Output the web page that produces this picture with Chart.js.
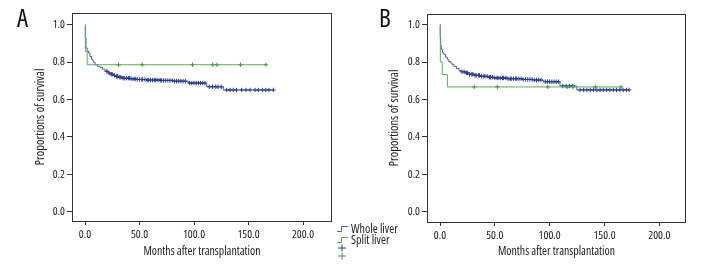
<!DOCTYPE html>
<html><head><meta charset="utf-8">
<script src="https://cdn.jsdelivr.net/npm/chart.js@4"></script>
<style>
html,body{margin:0;padding:0;background:#fff;}
body{width:720px;height:276px;position:relative;overflow:hidden;font-family:"Open Sans",sans-serif;font-stretch:condensed;}
.cv{position:absolute;top:0;width:360px;height:276px;}
.panel{position:absolute;font-size:25px;line-height:1;color:#111;font-stretch:condensed;}
.leg{position:absolute;left:337px;height:10px;font-size:12px;line-height:10px;color:#222;display:flex;align-items:center;white-space:nowrap;font-stretch:condensed;}
.leg svg{margin-right:3px;flex:none;}
</style></head><body>
<div class="cv" style="left:0"><canvas id="cA" width="360" height="276"></canvas></div>
<div class="cv" style="left:360px"><canvas id="cB" width="360" height="276"></canvas></div>
<div class="panel" style="left:17px;top:5px;">A</div>
<div class="panel" style="left:379px;top:5px;">B</div>
<div class="leg" style="top:224px;"><svg width="11" height="8"><path d="M0,6.5 H4.5 V1.5 H11" fill="none" stroke="#4a5fb0" stroke-width="1"/></svg>Whole liver</div>
<div class="leg" style="top:234.5px;"><svg width="11" height="8"><path d="M0,6.5 H4.5 V1.5 H11" fill="none" stroke="#5cad5c" stroke-width="1"/></svg>Split liver</div>
<div class="leg" style="top:243px;"><svg width="11" height="8"><path d="M1,4 H9 M5,0.5 V7.5" fill="none" stroke="#2a3a8f" stroke-width="1"/></svg></div>
<div class="leg" style="top:250.5px;"><svg width="11" height="8"><path d="M1,4 H9 M5,0.5 V7.5" fill="none" stroke="#3f9b3f" stroke-width="1"/></svg></div>
<script>
// ---- data ----
const xTicks = [0, 50, 100, 150, 200];
const yTicks = [0, 0.2, 0.4, 0.6, 0.8, 1.0];
const seriesNames = ['Whole liver', 'Split liver'];

// Panel A - whole liver (event times / survival after event)
const wholeA_t = [0, 0.3, 0.9, 2, 3.1, 4.5, 6.1, 7.5, 9.2, 11.5, 13.8, 16, 18.3, 21.4, 24, 26, 28, 30.6, 35, 41.3, 48, 56.6, 70, 81, 94.8, 111.6, 126.9];
const wholeA_s = [1.0, 0.93, 0.875, 0.86, 0.849, 0.83, 0.813, 0.80, 0.786, 0.778, 0.772, 0.762, 0.751, 0.742, 0.735, 0.729, 0.724, 0.719, 0.714, 0.71, 0.707, 0.704, 0.702, 0.698, 0.688, 0.668, 0.651];
const wholeA_cens = [20, 22, 24, 25, 27, 29, 30, 32, 33, 35, 36, 38, 40, 41, 43, 45, 46, 48, 50, 52, 53, 55, 57, 58, 60, 62, 64, 65, 67, 69, 70, 72, 74, 76, 78, 80, 82, 84, 86, 88, 90, 92, 96, 98, 100, 102, 104, 106, 108, 110, 114, 117, 120, 122, 125, 130, 133, 136, 139, 143.8, 147.7, 151.4, 156, 159, 162.7, 165.8, 168.8, 172.8];
// Panel A - split liver
const splitA_t = [0, 0.3, 2];
const splitA_s = [1.0, 0.857, 0.786];
const splitA_cens = [30.8, 52.5, 98.6, 117.2, 121.1, 142.6, 166];

// Panel B - whole liver
const wholeB_t = [0, 0.2, 0.6, 1.2, 2.3, 3.6, 5, 6.7, 8, 9.7, 11, 12.8, 15, 17.3, 20, 23.4, 27, 31, 37, 43.1, 50, 61.4, 75, 84.2, 94.2, 109.4, 124.7];
const wholeB_s = [1.0, 0.93, 0.89, 0.866, 0.85, 0.84, 0.826, 0.813, 0.803, 0.795, 0.786, 0.777, 0.765, 0.754, 0.748, 0.742, 0.735, 0.729, 0.724, 0.719, 0.715, 0.711, 0.707, 0.704, 0.695, 0.672, 0.651];
const wholeB_cens = [20, 22, 24, 25, 27, 29, 30, 32, 33, 35, 36, 38, 40, 41, 43, 45, 46, 48, 50, 52, 53, 55, 57, 58, 60, 62, 64, 65, 67, 69, 70, 72, 74, 76, 78, 80, 82, 84, 86, 88, 90, 92, 96, 98, 100, 102, 104, 106, 108, 112, 115, 118, 121, 127.7, 131, 134, 137, 140, 143, 146, 149, 152, 155, 158, 161, 164, 167, 170, 172.5];
// Panel B - split liver
const splitB_t = [0, 0.3, 2.1, 6.7];
const splitB_s = [1.0, 0.8, 0.733, 0.667];
const splitB_cens = [31.3, 52.3, 98.2, 116.1, 121, 141.6, 165.1];

// ---- styling ----
const FONT = '"Open Sans", sans-serif';
const STRETCH = 'condensed'; // goes before the size in the canvas font string
const BLUE_LINE = '#4a5fb0', BLUE_MARK = '#2a3a8f';
const GREEN_LINE = '#5cad5c', GREEN_MARK = '#3f9b3f';

function survAt(ts, ss, t) {
  let s = ss[0];
  for (let i = 0; i < ts.length; i++) if (ts[i] <= t) s = ss[i];
  return s;
}
function curve(ts, ss, cens) {
  const pts = ts.map((t, i) => ({x: t, y: ss[i]}));
  const end = Math.max(...cens);
  pts.push({x: end, y: ss[ss.length - 1]});
  return pts;
}
function marks(ts, ss, cens) {
  return cens.map(t => ({x: t, y: survAt(ts, ss, t)}));
}

const framePlugin = {
  id: 'frame',
  afterDraw(chart) {
    const a = chart.chartArea, c = chart.ctx;
    c.save();
    c.strokeStyle = '#333';
    c.lineWidth = 1;
    c.strokeRect(Math.round(a.left) + 0.5, Math.round(a.top) + 0.5, Math.round(a.right - a.left) - 1, Math.round(a.bottom - a.top));
    c.restore();
  }
};

function makeChart(id, p) {
  const datasets = [
    {label: seriesNames[0], type: 'line', data: curve(p.wt, p.ws, p.wc), stepped: 'before', borderColor: BLUE_LINE, borderWidth: 1, pointRadius: 0, fill: false, order: 3},
    {label: seriesNames[0] + ' censored', type: 'scatter', data: marks(p.wt, p.ws, p.wc), pointStyle: 'cross', pointRadius: 2.2, borderColor: BLUE_MARK, pointBorderWidth: 1, showLine: false, order: 2},
    {label: seriesNames[1], type: 'line', data: curve(p.st, p.ss, p.sc), stepped: 'before', borderColor: GREEN_LINE, borderWidth: 1, pointRadius: 0, fill: false, order: 1},
    {label: seriesNames[1] + ' censored', type: 'scatter', data: marks(p.st, p.ss, p.sc), pointStyle: 'cross', pointRadius: 2.2, borderColor: GREEN_MARK, pointBorderWidth: 1, showLine: false, order: 0}
  ];
  return new Chart(document.getElementById(id), {
    type: 'line',
    data: {datasets},
    plugins: [framePlugin],
    options: {
      responsive: false, animation: false,
      layout: {padding: {left: 0, right: p.padR, top: p.padT, bottom: 0}},
      plugins: {legend: {display: false}, tooltip: {enabled: false}},
      scales: {
        x: {
          type: 'linear', min: p.xmin, max: p.xmax,
          afterBuildTicks(s) { s.ticks = xTicks.map(v => ({value: v})); },
          afterFit(s) { s.height = p.xH; },
          grid: {display: true, drawOnChartArea: false, drawTicks: true, tickLength: 4, color: '#333'},
          border: {display: false},
          ticks: {font: {family: FONT, size: 11.5, weight: STRETCH}, color: '#222', padding: 3, maxRotation: 0, autoSkip: false, callback: v => Number(v).toFixed(1)},
          title: {display: true, text: 'Months after transplantation', font: {family: FONT, size: 11.8, weight: STRETCH}, color: '#222', padding: {top: 0, bottom: 17}}
        },
        y: {
          type: 'linear', min: p.ymin, max: p.ymax,
          afterBuildTicks(s) { s.ticks = yTicks.map(v => ({value: v})); },
          afterFit(s) { s.width = p.yW; },
          grid: {display: true, drawOnChartArea: false, drawTicks: true, tickLength: 5, color: '#333'},
          border: {display: false},
          ticks: {font: {family: FONT, size: 11.5, weight: STRETCH}, color: '#222', padding: 2, autoSkip: false, callback: v => Number(v).toFixed(1)},
          title: {display: true, text: 'Proportions of survival', font: {family: FONT, size: 12.5, weight: STRETCH}, color: '#222', padding: {top: p.yTitlePad, bottom: 0}}
        }
      }
    }
  });
}

makeChart('cA', {
  wt: wholeA_t, ws: wholeA_s, wc: wholeA_cens, st: splitA_t, ss: splitA_s, sc: splitA_cens,
  xmin: -11.93, xmax: 226.6, ymin: -0.0497, ymax: 1.0626,
  padR: 28, padT: 13, xH: 55, yW: 72, yTitlePad: 32.5
});
makeChart('cB', {
  wt: wholeB_t, ws: wholeB_s, wc: wholeB_cens, st: splitB_t, ss: splitB_s, sc: splitB_cens,
  xmin: -11.86, xmax: 224.35, ymin: -0.055, ymax: 1.057,
  padR: 34, padT: 14, xH: 54, yW: 67, yTitlePad: 27
});
</script>
</body></html>
